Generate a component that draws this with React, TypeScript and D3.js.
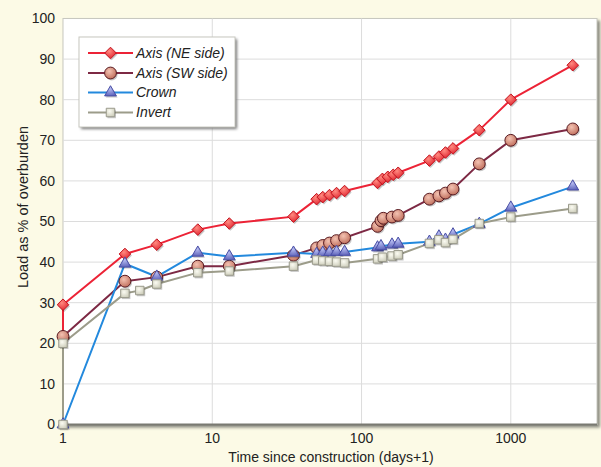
import React from "react";
import * as d3 from "d3";

// Elapsed time (days+1) and load (% of overburden) for each gauge
const neDays = [1, 1, 2.6, 4.25, 8, 13, 35, 50, 55, 61, 68, 77, 128, 138, 150, 163, 176, 285, 330, 365, 410, 615, 1000, 2600];
const neLoad = [21.5, 29.5, 42, 44.3, 48, 49.5, 51.2, 55.5, 56, 56.5, 57, 57.5, 59.5, 60.5, 61, 61.5, 62, 65, 66, 67, 68, 72.5, 80, 88.5];

const swDays = [1, 2.6, 4.25, 8, 13, 35, 50, 55, 61, 68, 77, 128, 135, 140, 160, 176, 285, 330, 365, 410, 615, 1000, 2600];
const swLoad = [21.7, 35.3, 36.3, 39, 39, 41.7, 43.5, 44.1, 44.7, 45.3, 46, 48.8, 50.2, 50.8, 51.1, 51.5, 55.5, 56.3, 57, 58, 64.2, 70, 72.8];

const crownDays = [1, 2.6, 4.25, 8, 13, 35, 50, 55, 61, 68, 77, 128, 135, 160, 176, 285, 330, 365, 410, 615, 1000, 2600];
const crownLoad = [0, 39.6, 36.4, 42.3, 41.4, 42.3, 42, 42.3, 42.4, 42.5, 42.5, 43.6, 43.9, 44.3, 44.5, 45, 46.3, 45.5, 46.8, 49.4, 53.4, 58.6];

const invertDays = [1, 1, 2.6, 3.27, 4.25, 8, 13, 35, 50, 55, 61, 68, 77, 128, 138, 160, 176, 285, 330, 365, 410, 615, 1000, 2600];
const invertLoad = [0, 20, 32.3, 33, 34.6, 37.4, 37.8, 39, 40.5, 40.3, 40.2, 40, 39.8, 40.8, 41.2, 41.5, 41.8, 44.6, 45.5, 44.8, 45.6, 49.5, 51.1, 53.2];

const seriesNames = ["Axis (NE side)", "Axis (SW side)", "Crown", "Invert"];
const yTicks = [0, 10, 20, 30, 40, 50, 60, 70, 80, 90, 100];
const xTicks = [1, 10, 100, 1000];
const xTitle = "Time since construction (days+1)";
const yTitle = "Load as % of overburden";

type Shape = "diamond" | "circle" | "triangle" | "square";

const styles: { line: string; shape: Shape; fill: string; stroke: string }[] = [
  { line: "#ec2336", shape: "diamond", fill: "url(#gNE)", stroke: "#c3141f" },
  { line: "#7d2944", shape: "circle", fill: "url(#gSW)", stroke: "#5a1c22" },
  { line: "#2389dd", shape: "triangle", fill: "url(#gCR)", stroke: "#4a4fa6" },
  { line: "#9c9c8a", shape: "square", fill: "url(#gIN)", stroke: "#9a9a8c" },
];

const W = 601;
const H = 467;
const plot = { left: 63, right: 597, top: 18.5, bottom: 424.5 };

const diamondPath = "M0,-5.8L5.8,0L0,5.8L-5.8,0Z";

function Marker({ shape, x, y, fill, stroke }: { shape: Shape; x: number; y: number; fill: string; stroke: string }) {
  const d =
    shape === "diamond"
      ? diamondPath
      : (shape === "circle"
          ? d3.symbol(d3.symbolCircle, 110)
          : shape === "triangle"
          ? d3.symbol(d3.symbolTriangle, 60)
          : d3.symbol(d3.symbolSquare, 72))() as string;
  return (
    <g>
      <path d={d} transform={`translate(${x + 1.2},${y + 1.5})`} fill="rgba(0,0,0,0.22)" />
      <path d={d} transform={`translate(${x},${y})`} fill={fill} stroke={stroke} strokeWidth={1} />
    </g>
  );
}

export default function App() {
  const x = d3.scaleLog().domain([1, 3780]).range([plot.left, plot.right]);
  const y = d3.scaleLinear().domain([0, 100]).range([plot.bottom, plot.top]);

  const data = [
    neDays.map((d, i) => [d, neLoad[i]] as [number, number]),
    swDays.map((d, i) => [d, swLoad[i]] as [number, number]),
    crownDays.map((d, i) => [d, crownLoad[i]] as [number, number]),
    invertDays.map((d, i) => [d, invertLoad[i]] as [number, number]),
  ];

  const line = d3
    .line<[number, number]>()
    .x((d) => x(d[0]))
    .y((d) => y(d[1]));

  const font = "'Liberation Sans', Arial, sans-serif";

  const legend = { x: 79, y: 37, w: 156, h: 90 };
  const rowY = [53, 73, 92.5, 112.5];

  return (
    <svg width={W} height={H} style={{ position: "absolute", left: 0, top: 0 }} fontFamily={font}>
      <defs>
        <radialGradient id="gNE" cx="40%" cy="35%" r="70%">
          <stop offset="0%" stopColor="#ff8a80" />
          <stop offset="100%" stopColor="#e0202c" />
        </radialGradient>
        <radialGradient id="gSW" cx="40%" cy="35%" r="70%">
          <stop offset="0%" stopColor="#f3c2b2" />
          <stop offset="100%" stopColor="#bf6d5a" />
        </radialGradient>
        <radialGradient id="gCR" cx="45%" cy="30%" r="75%">
          <stop offset="0%" stopColor="#b6bcf0" />
          <stop offset="100%" stopColor="#5a5fb8" />
        </radialGradient>
        <radialGradient id="gIN" cx="40%" cy="35%" r="75%">
          <stop offset="0%" stopColor="#fbfbf2" />
          <stop offset="100%" stopColor="#c9c9b6" />
        </radialGradient>
        <filter id="soft" x="-10%" y="-10%" width="130%" height="130%">
          <feGaussianBlur stdDeviation="1.5" />
        </filter>
      </defs>

      <rect x={0} y={0} width={W} height={H} fill="#fcfae6" />

      {/* plot area with its shadow */}
      <rect
        x={plot.left + 2}
        y={plot.top + 2}
        width={plot.right - plot.left + 1}
        height={plot.bottom - plot.top + 1}
        fill="#8a8a80"
        filter="url(#soft)"
      />
      <rect
        x={plot.left}
        y={plot.top}
        width={plot.right - plot.left}
        height={plot.bottom - plot.top}
        fill="#ffffff"
        stroke="#c8c8c0"
        strokeWidth={1}
      />

      {/* gridlines */}
      {yTicks.slice(1, -1).map((t) => (
        <line key={`gy${t}`} x1={plot.left} x2={plot.right} y1={y(t)} y2={y(t)} stroke="#dcdcdc" strokeWidth={1} />
      ))}
      {xTicks.slice(1).map((t) => (
        <line key={`gx${t}`} x1={x(t)} x2={x(t)} y1={plot.top} y2={plot.bottom} stroke="#dcdcdc" strokeWidth={1} />
      ))}
      <line x1={plot.left} x2={plot.right} y1={plot.bottom} y2={plot.bottom} stroke="#7a7a72" strokeWidth={2} />

      {/* tick labels */}
      {yTicks.map((t) => (
        <text key={`ty${t}`} x={55} y={y(t)} dy="0.35em" textAnchor="end" fontSize={14} fill="#222">
          {t}
        </text>
      ))}
      {xTicks.map((t) => (
        <text key={`tx${t}`} x={x(t)} y={443} textAnchor="middle" fontSize={14} fill="#222">
          {t}
        </text>
      ))}
      <text x={331} y={462} textAnchor="middle" fontSize={14} fill="#222">
        {xTitle}
      </text>
      <text
        transform={`translate(28,207) rotate(-90)`}
        textAnchor="middle"
        fontSize={14.5}
        fill="#222"
      >
        {yTitle}
      </text>

      {/* series */}
      {data.map((s, i) => (
        <path key={`l${i}`} d={line(s) as string} fill="none" stroke={styles[i].line} strokeWidth={2} strokeLinejoin="round" />
      ))}
      {data.map((s, i) => (
        <g key={`m${i}`}>
          {s.map((d, j) => (
            <Marker key={j} shape={styles[i].shape} x={x(d[0])} y={y(d[1])} fill={styles[i].fill} stroke={styles[i].stroke} />
          ))}
        </g>
      ))}

      {/* legend */}
      <rect x={legend.x + 2} y={legend.y + 2} width={legend.w} height={legend.h} fill="#777" filter="url(#soft)" />
      <rect x={legend.x} y={legend.y} width={legend.w} height={legend.h} fill="#ffffff" stroke="#c8c8c0" />
      {seriesNames.map((name, i) => (
        <g key={`lg${i}`}>
          <line x1={88} x2={133} y1={rowY[i]} y2={rowY[i]} stroke={styles[i].line} strokeWidth={2} />
          <Marker shape={styles[i].shape} x={110.5} y={rowY[i]} fill={styles[i].fill} stroke={styles[i].stroke} />
          <text x={136} y={rowY[i]} dy="0.35em" fontSize={14} fontStyle="italic" fill="#222">
            {name}
          </text>
        </g>
      ))}
    </svg>
  );
}
